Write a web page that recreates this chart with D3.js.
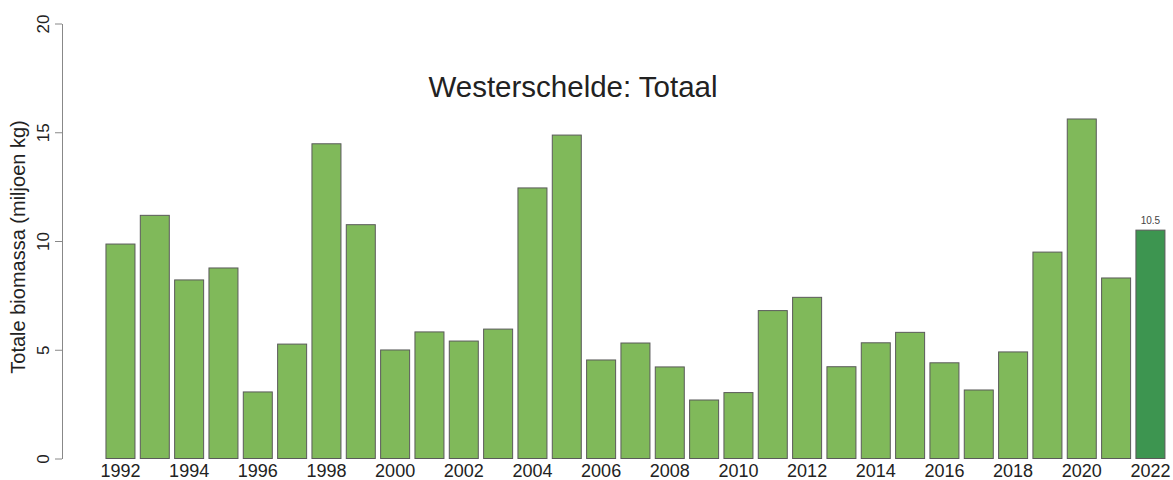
<!DOCTYPE html>
<html lang="nl">
<head>
    <meta charset="UTF-8">
    <title>Westerschelde: Totaal</title>
    <script src="https://cdnjs.cloudflare.com/ajax/libs/d3/7.8.5/d3.min.js"></script>
    <style>
        body { margin: 0; background: #fff; }
        text { font-family: "Liberation Sans", Arial, sans-serif; fill: #222; }
    </style>
</head>
<body>
<svg id="chart" width="1173" height="480"></svg>
<script>
    // jaren en totale biomassa (miljoen kg)
    const years = d3.range(1992, 2023);
    const biomass = [
        9.86, 11.18, 8.21, 8.76, 3.06, 5.26, 14.47, 10.75, 4.99, 5.82,
        5.40, 5.95, 12.44, 14.87, 4.53, 5.31, 4.21, 2.69, 3.03, 6.80,
        7.41, 4.22, 5.32, 5.80, 4.40, 3.15, 4.90, 9.49, 15.61, 8.30, 10.5
    ];
    const yTicks = [0, 5, 10, 15, 20];
    const xLabelYears = years.filter(y => y % 2 === 0);
    const title = "Westerschelde: Totaal";
    const yTitle = "Totale biomassa (miljoen kg)";

    const svg = d3.select("#chart");
    const data = years.map((y, i) => ({ year: y, value: biomass[i] }));
    const lastYear = years[years.length - 1];

    const x = d3.scaleBand()
        .domain(years)
        .range([103.3, 1167.6])
        .paddingInner(0.155)
        .paddingOuter(0.0775);

    const y = d3.scaleLinear()
        .domain([0, 20])
        .range([458.5, 23.5]);

    // bars
    svg.append("g")
        .selectAll("rect")
        .data(data)
        .enter().append("rect")
        .attr("x", d => x(d.year))
        .attr("y", d => y(d.value))
        .attr("width", x.bandwidth())
        .attr("height", d => y(0) - y(d.value))
        .attr("fill", d => d.year === lastYear ? "#3d9550" : "#80b95a")
        .attr("stroke", "#5a5a5a")
        .attr("stroke-width", 1);

    // label above most recent year
    const last = data[data.length - 1];
    svg.append("text")
        .attr("x", x(last.year) + x.bandwidth() / 2)
        .attr("y", y(last.value) - 6)
        .attr("text-anchor", "middle")
        .style("font-size", "10px")
        .style("fill", "#444")
        .text(last.value.toFixed(1));

    // y axis, R-style with rotated labels
    const yAxis = svg.append("g")
        .attr("transform", "translate(62,0)")
        .call(d3.axisLeft(y).tickValues(yTicks).tickSize(7).tickSizeOuter(0).tickPadding(10));
    yAxis.select(".domain").attr("stroke", "#888");
    yAxis.selectAll(".tick line").attr("stroke", "#888");
    yAxis.selectAll(".tick text")
        .attr("x", null).attr("dy", null)
        .attr("transform", "translate(-19,0) rotate(-90)")
        .attr("text-anchor", "middle")
        .attr("dy", "0.35em")
        .style("font-size", "17px")
        .style("fill", "#222");

    // x labels (every other year)
    const xAxis = svg.append("g")
        .attr("transform", "translate(0,458.5)")
        .call(d3.axisBottom(x).tickValues(xLabelYears).tickSize(0).tickPadding(6));
    xAxis.select(".domain").remove();
    xAxis.selectAll(".tick text")
        .style("font-size", "18px")
        .style("fill", "#222");

    // titles
    svg.append("text")
        .attr("x", 573)
        .attr("y", 97)
        .attr("text-anchor", "middle")
        .style("font-size", "29.5px")
        .text(title);

    svg.append("text")
        .attr("transform", "translate(25,247) rotate(-90)")
        .attr("text-anchor", "middle")
        .style("font-size", "20px")
        .text(yTitle);
</script>
</body>
</html>
